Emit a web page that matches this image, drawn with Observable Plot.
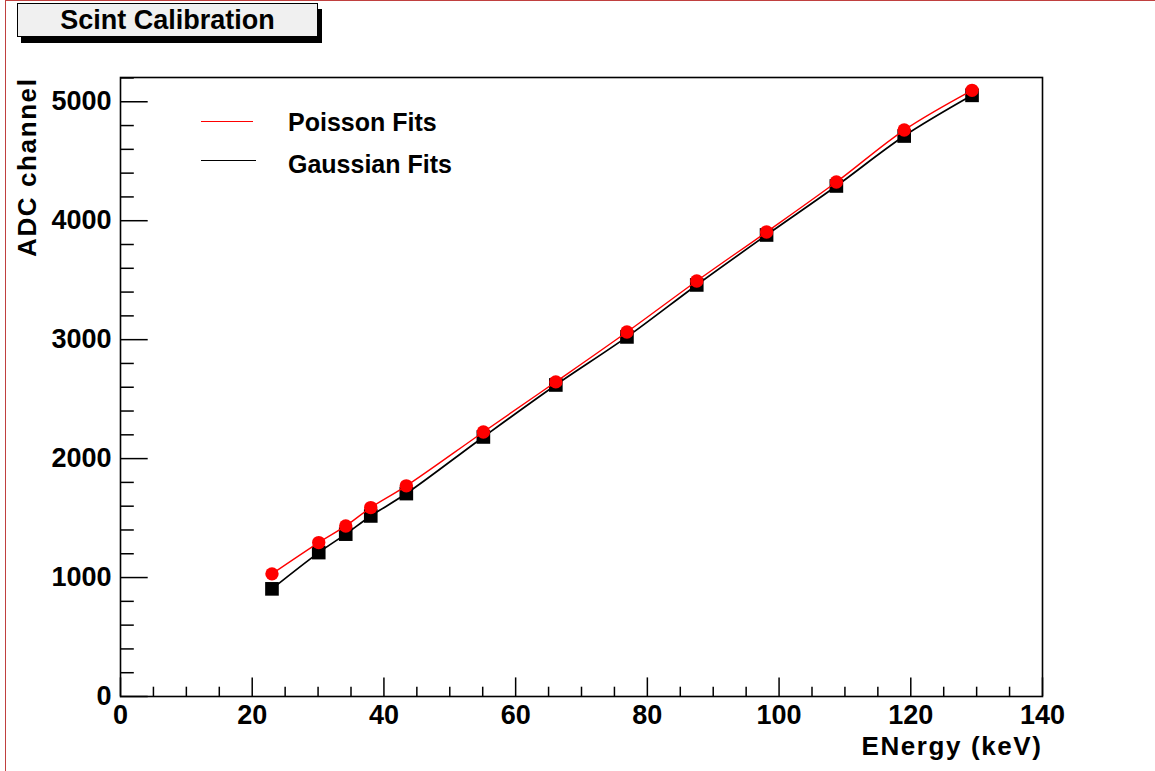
<!DOCTYPE html>
<html>
<head>
<meta charset="utf-8">
<script src="https://cdn.jsdelivr.net/npm/d3@7"></script>
<script src="https://cdn.jsdelivr.net/npm/@observablehq/plot@0.6"></script>
<style>
  html, body { margin: 0; padding: 0; background: #fff; }
  #page {
    position: relative; width: 1155px; height: 771px; overflow: hidden;
    font-family: "Liberation Sans", Arial, Helvetica, sans-serif; font-weight: bold; color: #000;
  }
  #chart { position: absolute; left: 0; top: 0; }
  #edge {
    position: absolute; left: 5px; top: 0; width: 1150px; height: 771px; box-sizing: border-box;
    border-top: 1.5px solid #c0403f; border-left: 1.5px solid #c0403f; pointer-events: none;
  }
  #title {
    position: absolute; left: 17px; top: 3px; width: 301px; height: 34px; box-sizing: border-box;
    border: 1px solid #000; background: #f0f0f0; box-shadow: 4px 6px 0 #000;
    font-size: 27px; line-height: 32px; text-align: center;
  }
  .swatch { position: absolute; left: 201px; width: 52px; height: 0; }
  .entry { position: absolute; left: 288px; font-size: 25px; line-height: 1; transform: translateY(-50%); white-space: nowrap; }
  text.axis-title { letter-spacing: 1.6px; }
</style>
</head>
<body>
<div id="page">
  <div id="chart"></div>
  <div id="edge"></div>
  <div id="title">Scint Calibration</div>
  <div class="swatch" style="top:121px;border-top:1.4px solid #ff0000;"></div>
  <div class="entry" style="top:122px;">Poisson Fits</div>
  <div class="swatch" style="top:160px;border-top:1.7px solid #000;width:55px;"></div>
  <div class="entry" style="top:164px;">Gaussian Fits</div>
</div>
<script>
// Calibration points: photon energy (keV) against fitted ADC peak position
const energy      = [23.0, 30.1, 34.2, 38.0, 43.4, 55.1, 66.1, 76.9, 87.5, 98.1, 108.7, 119.0, 129.3];
const poissonAdc  = [1031, 1294, 1434, 1588, 1771, 2224, 2645, 3064, 3493, 3905, 4325, 4762, 5096];
const gaussianAdc = [ 905, 1210, 1365, 1518, 1706, 2182, 2619, 3023, 3460, 3880, 4292, 4712, 5054];

// Axis ticks
const xMajor = d3.range(0, 141, 20);
const xMinor = d3.range(0, 141, 5).filter(v => v % 20 !== 0);
const yMajor = d3.range(0, 5001, 1000);
const yMinor = d3.range(0, 5201, 200).filter(v => v % 1000 !== 0);

const xTitle = "ENergy (keV)";
const yTitle = "ADC channel";

const poisson  = energy.map((e, i) => ({energy: e, adc: poissonAdc[i]}));
const gaussian = energy.map((e, i) => ({energy: e, adc: gaussianAdc[i]}));

const tickFont = {fontSize: 27, fontWeight: "bold", tickFormat: d => String(d)};
const titleFont = {fontSize: 26, fontWeight: "bold"};

const chart = Plot.plot({
  width: 1155,
  height: 771,
  marginLeft: 120,
  marginRight: 113,
  marginTop: 77,
  marginBottom: 75,
  style: {fontFamily: "'Liberation Sans', Arial, Helvetica, sans-serif", background: "transparent", color: "#000"},
  x: {domain: [0, 140]},
  y: {domain: [0, 5204]},
  marks: [
    Plot.frame({stroke: "#000", strokeWidth: 1.6}),
    // inward ticks, as on a ROOT frame
    Plot.axisX(xMajor, {tickSize: -18.6, fill: "none", strokeWidth: 1.5}),
    Plot.axisX(xMinor, {tickSize: -9.3, fill: "none", strokeWidth: 1.5}),
    Plot.axisX(xMajor, {tickSize: 0, tickPadding: 8, label: null, ...tickFont}),
    Plot.axisY(yMajor, {tickSize: -27.7, fill: "none", strokeWidth: 1.5}),
    Plot.axisY(yMinor, {tickSize: -13.8, fill: "none", strokeWidth: 1.5}),
    Plot.axisY(yMajor, {tickSize: 0, tickPadding: 9, label: null, ...tickFont}),
    Plot.text([xTitle], {frameAnchor: "bottom-right", dy: 50, textAnchor: "end", lineAnchor: "middle", ...titleFont}),
    Plot.text([yTitle], {frameAnchor: "top-left", dx: -93, rotate: -90, textAnchor: "end", lineAnchor: "middle", ...titleFont}),
    // Gaussian fit results
    Plot.line(gaussian, {x: "energy", y: "adc", stroke: "#000", strokeWidth: 1.7, curve: "catmull-rom"}),
    Plot.dot(gaussian, {x: "energy", y: "adc", symbol: "square", r: 7.7, fill: "#000", stroke: "none"}),
    // Poisson fit results
    Plot.line(poisson, {x: "energy", y: "adc", stroke: "#ff0000", strokeWidth: 1.4, curve: "catmull-rom"}),
    Plot.dot(poisson, {x: "energy", y: "adc", r: 6.7, fill: "#ff0000", stroke: "none"})
  ]
});

// widen the letter spacing of the two axis titles
d3.select(chart).selectAll("text")
  .filter(function() { return this.textContent === xTitle || this.textContent === yTitle; })
  .classed("axis-title", true);

document.getElementById("chart").appendChild(chart);
</script>
</body>
</html>
